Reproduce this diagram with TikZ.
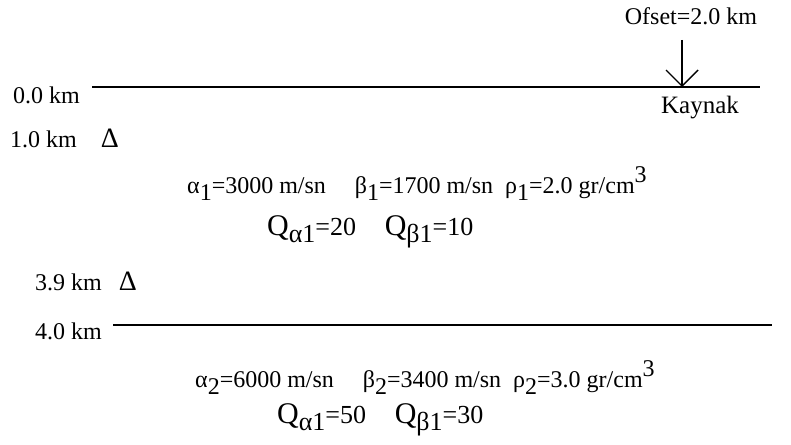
\documentclass[tikz,border=0pt]{standalone}
\usepackage{fontspec}
\setmainfont{Liberation Serif}
\usetikzlibrary{arrows.meta,positioning}
\newcommand{\lo}[1]{\raisebox{-0.3em}{#1}}
\newcommand{\hi}[1]{\raisebox{0.42em}{#1}}
\newcommand{\bigQ}{{\fontsize{30}{30}\selectfont Q}}

\begin{document}
\begin{tikzpicture}[
  x=1pt,y=-1pt,
  every node/.style={font=\fontsize{24}{28}\selectfont,inner sep=0pt},
  depth/.style={anchor=base west},
  rx/.style={anchor=base,font=\fontsize{28}{30}\selectfont},
  layertext/.style={anchor=base west},
  qtext/.style={anchor=base west,font=\fontsize{26}{30}\selectfont},
  surf/.style={line width=1.8pt},
  arr/.style={-{Straight Barb[length=16pt,width=32pt]},line width=1.4pt},
]
\useasboundingbox (0,0) rectangle (791,444);
% free surface and source
\coordinate (s0l) at (92,87);
\coordinate (s0r) at (760,87);
\coordinate (src) at (682,87);
\coordinate (srctop) at (682,40);
\draw[surf] (s0l) -- (s0r);
\node[anchor=base] (ofset) at (691,25) {Ofset=2.0 km};
\node[anchor=base,font=\fontsize{25}{28}\selectfont] (kaynak) at (700,113) {Kaynak};
\draw[arr] (srctop) -- (src);
% depths and receivers
\node[depth] (d0) at (13,103) {0.0 km};
\node[depth] (d1) at (10,147) {1.0 km};
\node[rx] (rx1) at (110,147) {Δ};
\node[depth] (d39) at (35,290) {3.9 km};
\node[rx] (rx2) at (128,290) {Δ};
\node[depth] (d4) at (35,339) {4.0 km};
% interface
\coordinate (s1l) at (113,325);
\coordinate (s1r) at (772,325);
\draw[surf] (s1l) -- (s1r);
% layer 1
\node[layertext] (l1a) at (187,193) {α\lo{1}=3000 m/sn\hspace{1.2em}β\lo{1}=1700 m/sn\enspace ρ\lo{1}=2.0 gr/cm\hi{3}};
\node[qtext] (l1b) at (267,235) {\bigQ\lo{α1}=20\hspace{1.1em}\bigQ\lo{β1}=10};
% layer 2
\node[layertext] (l2a) at (195,387) {α\lo{2}=6000 m/sn\hspace{1.2em}β\lo{2}=3400 m/sn\enspace ρ\lo{2}=3.0 gr/cm\hi{3}};
\node[qtext] (l2b) at (277,423) {\bigQ\lo{α1}=50\hspace{1.1em}\bigQ\lo{β1}=30};
\end{tikzpicture}
\end{document}
